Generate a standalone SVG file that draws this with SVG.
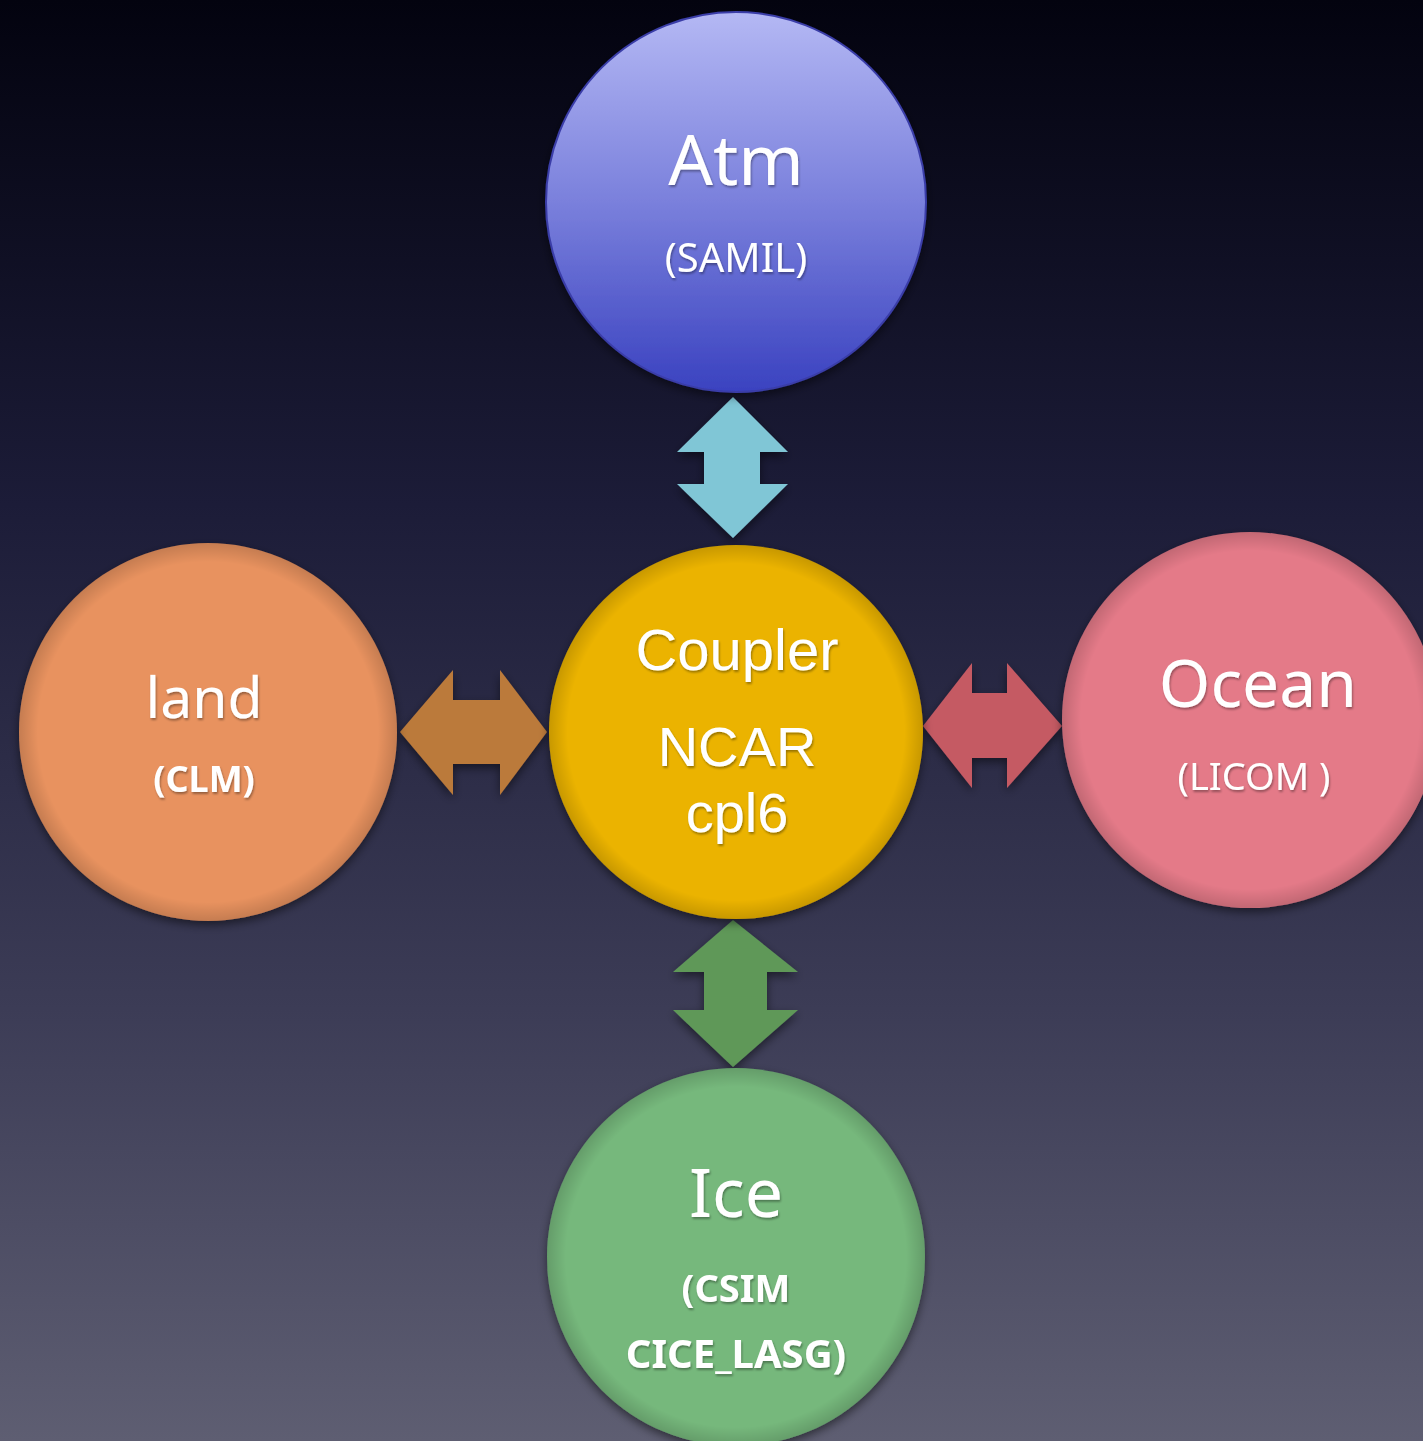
<svg xmlns="http://www.w3.org/2000/svg" width="1423" height="1441" viewBox="0 0 1423 1441">
<defs>
<linearGradient id="bg" x1="0" y1="0" x2="0" y2="1">
<stop offset="0" stop-color="#03030f"/>
<stop offset="0.35" stop-color="#1c1c38"/>
<stop offset="0.7" stop-color="#3c3c56"/>
<stop offset="1" stop-color="#5e5e72"/>
</linearGradient>
<linearGradient id="atmG" x1="0" y1="0" x2="0" y2="1">
<stop offset="0" stop-color="#b4b8f4"/>
<stop offset="0.5" stop-color="#7a80dc"/>
<stop offset="1" stop-color="#3a42c0"/>
</linearGradient>
<radialGradient id="rim" cx="0.5" cy="0.5" r="0.5">
<stop offset="0.9" stop-color="#000" stop-opacity="0"/>
<stop offset="1" stop-color="#000" stop-opacity="0.15"/>
</radialGradient>
<filter id="sh" x="-20%" y="-20%" width="140%" height="140%">
<feDropShadow dx="0" dy="4" stdDeviation="5" flood-color="#000" flood-opacity="0.5"/>
</filter>
<filter id="tsh" x="-10%" y="-10%" width="120%" height="130%">
<feDropShadow dx="1" dy="2" stdDeviation="1" flood-color="#000" flood-opacity="0.35"/>
</filter>
</defs>
<style>
.t{font-family:"Noto Sans","Open Sans","DejaVu Sans",sans-serif;fill:#ffffff;text-anchor:middle;filter:url(#tsh)}
.c{font-family:"Liberation Sans",Arial,sans-serif}
.arrow{filter:url(#sh)}
</style>
<rect width="1423" height="1441" fill="url(#bg)"/>
<g id="connectors">
<path class="arrow" fill="#80c6d6" d="M733,397 L788,452 L760,452 L760,484 L788,484 L733,538 L677,484 L704,484 L704,452 L677,452 Z"/>
<path class="arrow" fill="#bb7a3a" d="M400,732 L453,670 L453,700 L500,700 L500,670 L547,732 L500,795 L500,764 L453,764 L453,795 Z"/>
<path class="arrow" fill="#c55a64" d="M923,726 L972,663 L972,693 L1007,693 L1007,663 L1062,726 L1007,788 L1007,758 L972,758 L972,788 Z"/>
<path class="arrow" fill="#5f9858" d="M733,920 L798,972 L767,972 L767,1010 L798,1010 L733,1067 L673,1010 L704,1010 L704,972 L673,972 Z"/>
</g>
<g id="atm">
<circle cx="736" cy="202" r="190" fill="url(#atmG)" stroke="#3a3ea8" stroke-width="2" filter="url(#sh)"/>
<text class="t" x="736" y="185" font-size="70">Atm</text>
<text class="t" x="736" y="272" font-size="40">(SAMIL)</text>
</g>
<g id="coupler">
<circle cx="736" cy="732" r="187" fill="#ebb300" filter="url(#sh)"/>
<circle cx="736" cy="732" r="187" fill="url(#rim)"/>
<text class="t c" x="737" y="670" font-size="58">Coupler</text>
<text class="t c" x="737" y="766" font-size="56">NCAR</text>
<text class="t c" x="737" y="832" font-size="56">cpl6</text>
</g>
<g id="land">
<circle cx="208" cy="732" r="189" fill="#e8925e" filter="url(#sh)"/>
<circle cx="208" cy="732" r="189" fill="url(#rim)"/>
<text class="t" x="204" y="718" font-size="57">land</text>
<text class="t" x="204" y="792" font-size="36" font-weight="bold">(CLM)</text>
</g>
<g id="ocean">
<circle cx="1250" cy="720" r="188" fill="#e47a88" filter="url(#sh)"/>
<circle cx="1250" cy="720" r="188" fill="url(#rim)"/>
<text class="t" x="1258" y="707" font-size="66">Ocean</text>
<text class="t" x="1254" y="790" font-size="38">(LICOM )</text>
</g>
<g id="ice">
<circle cx="736" cy="1257" r="189" fill="#76b87c" filter="url(#sh)"/>
<circle cx="736" cy="1257" r="189" fill="url(#rim)"/>
<text class="t" x="736" y="1217" font-size="68">Ice</text>
<text class="t" x="736" y="1302" font-size="38" font-weight="bold">(CSIM</text>
<text class="t" x="736" y="1368" font-size="40" font-weight="bold">CICE_LASG)</text>
</g>
</svg>
